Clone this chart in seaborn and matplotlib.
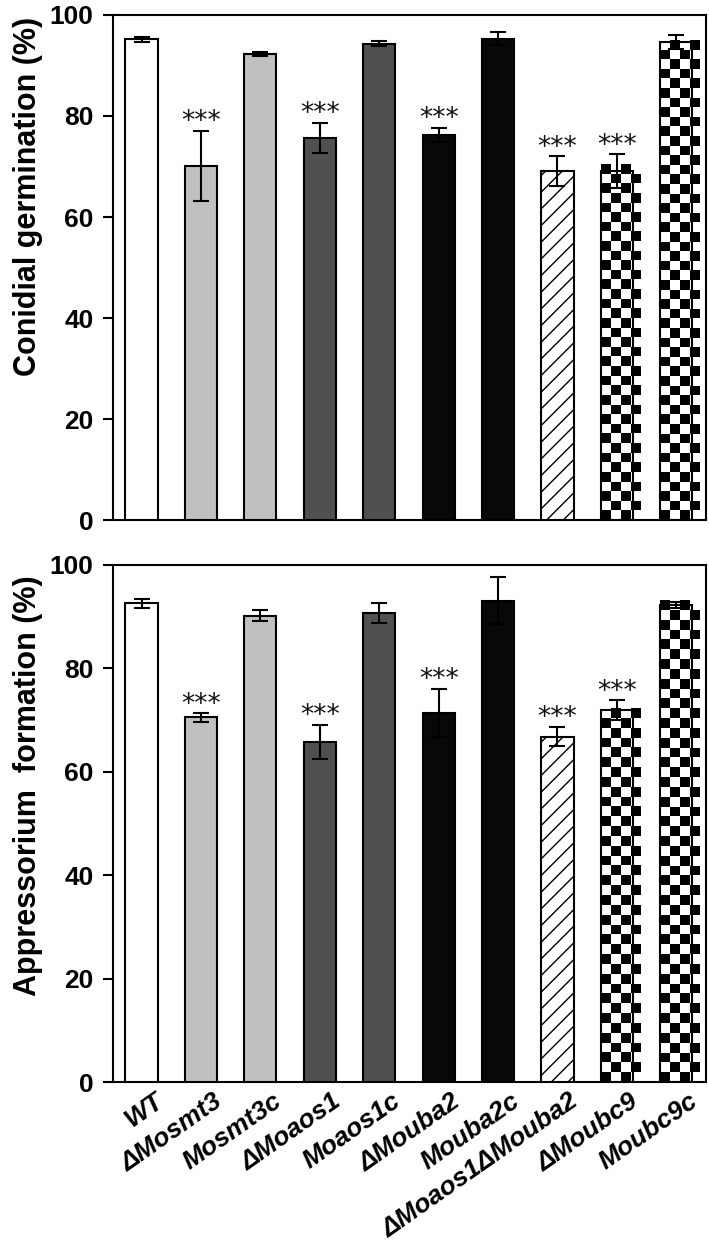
import numpy as np
import pandas as pd
import matplotlib
matplotlib.use('Agg')
import matplotlib.pyplot as plt
import matplotlib.transforms as mtransforms
import seaborn as sns

strains = ['WT', 'ΔMosmt3', 'Mosmt3c', 'ΔMoaos1', 'Moaos1c', 'ΔMouba2',
           'Mouba2c', 'ΔMoaos1ΔMouba2', 'ΔMoubc9', 'Moubc9c']
germ_mean = [95.2, 70.1, 92.3, 75.7, 94.3, 76.2, 95.3, 69.1, 69.1, 94.7]
germ_sd = [0.5, 7.0, 0.4, 3.0, 0.5, 1.4, 1.3, 2.9, 3.3, 1.4]
germ_sig = [False, True, False, True, False, True, False, True, True, False]
app_mean = [92.6, 70.5, 90.2, 65.8, 90.7, 71.4, 93.1, 66.8, 71.9, 92.3]
app_sd = [0.9, 0.8, 1.0, 3.3, 1.9, 4.6, 4.6, 1.8, 1.9, 0.6]
app_sig = [False, True, False, True, False, True, False, True, True, False]

bar_colors = ['white', '#c0c0c0', '#c0c0c0', '#505050', '#505050',
              '#080808', '#080808', 'white', 'white', 'white']
bar_fill = ['solid', 'solid', 'solid', 'solid', 'solid', 'solid', 'solid',
            'hatch', 'checker', 'checker']

sns.set_style('ticks')
plt.rcParams['font.family'] = ['Liberation Sans', 'DejaVu Sans']
plt.rcParams['text.color'] = 'black'
plt.rcParams['axes.labelcolor'] = 'black'
plt.rcParams['xtick.color'] = 'black'
plt.rcParams['ytick.color'] = 'black'
plt.rcParams['hatch.linewidth'] = 1.0

CELL_W = 0.165   # checker cell width (x units)
CELL_H = 1.9     # checker cell height (%)


def draw_panel(ax, means, sds, sig, ylabel, label_y, show_xlabels):
    df = pd.DataFrame({'Strain': strains, 'Value': means})
    sns.barplot(data=df, x='Strain', y='Value', hue='Strain', order=strains,
                hue_order=strains, palette=dict(zip(strains, bar_colors)),
                width=0.54, errorbar=None, legend=False, saturation=1,
                edgecolor='black', linewidth=1.5, ax=ax)
    bars = sorted(ax.patches, key=lambda p: p.get_x())
    for p, fill in zip(bars, bar_fill):
        p.set_zorder(3)
        if fill == 'hatch':
            p.set_hatch('//')
        elif fill == 'checker':
            x0, w, h = p.get_x(), p.get_width(), p.get_height()
            nx = int(np.ceil(w / CELL_W))
            ny = int(np.ceil(h / CELL_H))
            board = np.indices((ny, nx)).sum(axis=0) % 2
            p.set_facecolor('none')
            ax.imshow(board, cmap='gray', origin='lower', aspect='auto',
                      interpolation='nearest',
                      extent=[x0, x0 + nx * CELL_W, 0, ny * CELL_H],
                      clip_path=p, zorder=2)
    x = np.arange(len(strains))
    ax.errorbar(x, means, yerr=sds, fmt='none', ecolor='black',
                elinewidth=1.5, capsize=5.5, capthick=1.5, zorder=4)
    for xi, m, s, flag in zip(x, means, sds, sig):
        if flag:
            ax.annotate('***', (xi, m + s), xytext=(0, -3),
                        textcoords='offset points', ha='center', va='bottom',
                        fontsize=19, family='DejaVu Sans', color='#111111')
    ax.set_xlim(-0.48, 9.5)
    ax.set_ylim(0, 100)
    ax.set_yticks([0, 20, 40, 60, 80, 100])
    ax.set_ylabel(ylabel, fontsize=22, fontweight='bold')
    ax.yaxis.set_label_coords(-0.118, label_y)
    ax.set_xlabel('')
    for sp in ax.spines.values():
        sp.set_linewidth(1.5)
        sp.set_color('black')
    ax.tick_params(axis='y', length=7, width=1.5, labelsize=19, pad=7)
    ax.tick_params(axis='x', length=0, pad=5)
    for lab in ax.get_yticklabels():
        lab.set_fontweight('bold')
    ax.set_xticks(x)
    if show_xlabels:
        ax.set_xticklabels(strains, rotation=35, ha='right', va='top',
                           rotation_mode='anchor', fontsize=19,
                           fontweight='bold', fontstyle='italic')
        shift = mtransforms.ScaledTranslation(0.12, 0, ax.figure.dpi_scale_trans)
        for lab in ax.get_xticklabels():
            lab.set_transform(lab.get_transform() + shift)
    else:
        ax.set_xticklabels([])


fig = plt.figure(figsize=(7.09, 12.48), dpi=100)
ax1 = fig.add_axes([0.1594, 0.5833, 0.8364, 0.4047])
ax2 = fig.add_axes([0.1594, 0.1330, 0.8364, 0.4143])

draw_panel(ax1, germ_mean, germ_sd, germ_sig, 'Conidial germination (%)',
           0.64, False)
draw_panel(ax2, app_mean, app_sd, app_sig, 'Appressorium  formation (%)',
           0.574, True)

fig.savefig('out.png', dpi=100)
